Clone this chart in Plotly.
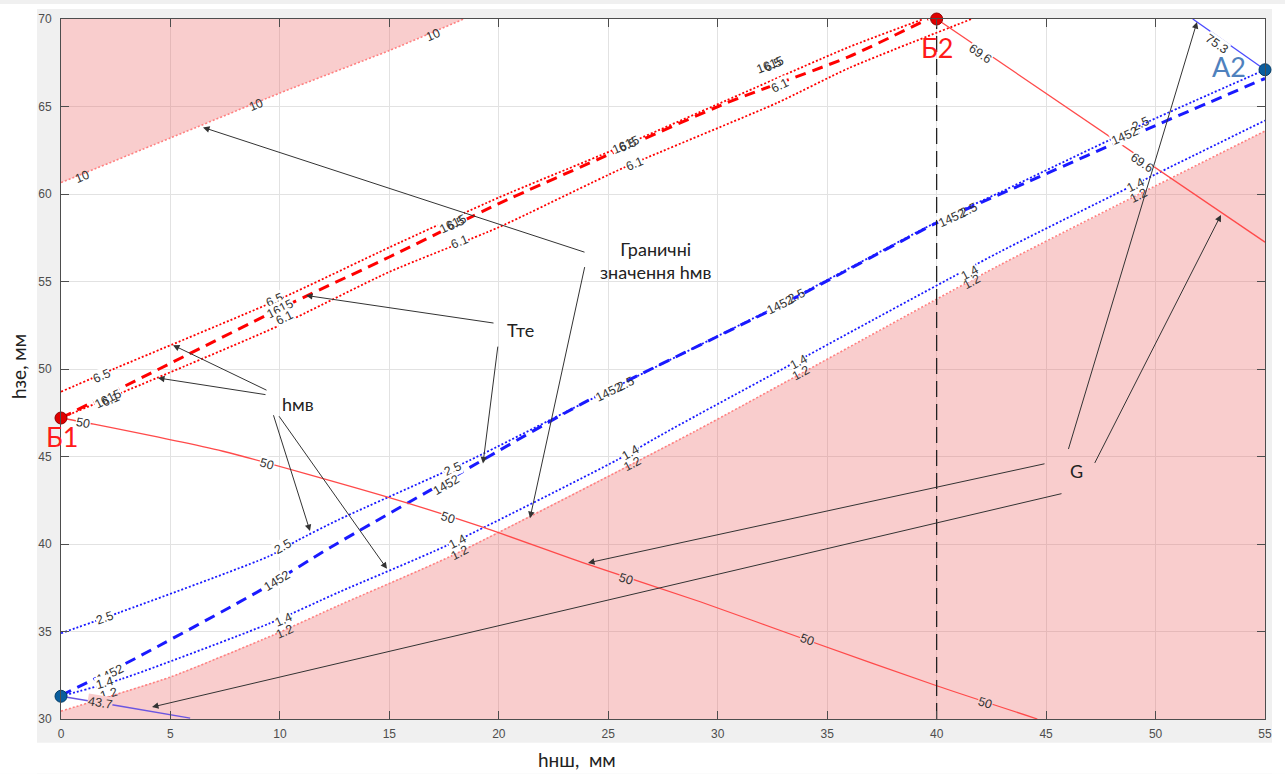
import numpy as np
import plotly.graph_objects as go

# ---------------- data ----------------
X_RANGE = [0, 55]
Y_RANGE = [30, 70]
X_TICKS = [0, 5, 10, 15, 20, 25, 30, 35, 40, 45, 50, 55]
Y_TICKS = [30, 35, 40, 45, 50, 55, 60, 65, 70]

# upper limit boundary hмв = 10
lim10_x = [0, 5, 10, 15, 18.4]
lim10_y = [60.65, 63.2, 65.77, 68.2, 70]
# lower limit boundary hмв = 1.2
lim12_x = [0, 5, 9.7, 12.7, 17.8, 28.9, 42.9, 55]
lim12_y = [30.45, 32.4, 34.8, 36.5, 39.3, 46.4, 55.95, 63.6]

# red family (Б)
t65_x = [0, 2.5, 10, 15, 20, 25.2, 30.4, 36, 39.4]
t65_y = [48.7, 50.05, 54.0, 56.95, 59.8, 62.5, 65.35, 68.4, 70]
t1615_x = [0, 4.4, 10, 15, 20, 25.2, 30.4, 36, 39.6]
t1615_y = [47.2, 49.95, 53.45, 56.4, 59.45, 62.35, 65.2, 67.85, 70]
t61_x = [0, 4.4, 10, 15, 20, 25.7, 32.7, 36, 41.6]
t61_y = [47.2, 49.5, 52.5, 55.55, 58.1, 61.5, 65.2, 67.2, 70]

# blue family (А)
b25_x = [0, 2.7, 9.5, 10.8, 12.7, 18.7, 23.7, 33.2, 40, 42.9, 49.7, 55]
b25_y = [34.9, 36.1, 39.3, 40.2, 41.4, 44.8, 47.95, 53.9, 58.4, 60.1, 64.15, 67.1]
b1452_x = [0, 3.15, 9.1, 12.3, 17.6, 23.7, 33.2, 40, 44, 49.7, 55]
b1452_y = [31.35, 33.3, 37.35, 39.8, 43.6, 47.95, 53.85, 58.35, 60.6, 63.75, 66.6]
b14_x = [0, 2.8, 9.5, 12.7, 17.6, 25.4, 27.8, 33.7, 42.9, 55]
b14_y = [31.3, 32.3, 35.45, 37.25, 39.9, 44.8, 46.5, 50.5, 56.7, 64.2]

# G lines
g50_x = [0, 1.5, 7.4, 15, 19.3, 23.8, 29.2, 34.1, 40, 44.6]
g50_y = [47.2, 46.85, 45.3, 42.65, 40.95, 38.95, 36.7, 34.5, 31.9, 30]
g696_x = [40, 55]
g696_y = [70, 57.25]
g753_x = [51.7, 55]
g753_y = [70, 67.1]
g437_x = [0, 2.6, 5.9]
g437_y = [31.3, 30.76, 30.05]

# special points
pt_names = ["Б1", "Б2", "А1", "А2"]
pt_x = [0, 40, 0, 55]
pt_y = [47.2, 70, 31.3, 67.1]
B2_X = 40

# ---------------- style constants ----------------
W, H = 1285, 774
ML, MR, MT, MB = 61, 20, 15, 55
PW, PH = W - ML - MR, H - MT - MB
PX_X = PW / (X_RANGE[1] - X_RANGE[0])
PX_Y = PH / (Y_RANGE[1] - Y_RANGE[0])

PINK_FILL = "rgba(235,90,90,0.30)"
PINK_BG = "#f9cdcd"
RED = "#ff0000"
BLUE = "#1a1aff"
LRED = "#ff8080"
SRED = "#ff4a4a"
LBL_FONT = dict(family="Liberation Sans, Arial", size=12.5, color="#333333")
TXT_FONT = dict(family="Lato, Open Sans", size=18, color="#222222")


def px2x(px):
    return X_RANGE[0] + (px - ML) / PX_X


def py2y(py):
    return Y_RANGE[1] - (py - MT) / PX_Y


fig = go.Figure()

# pink regions
fig.add_trace(go.Scatter(x=lim10_x + [X_RANGE[0]], y=lim10_y + [Y_RANGE[1]], fill="toself",
                         fillcolor=PINK_FILL, line=dict(width=0), mode="lines", hoverinfo="skip"))
fig.add_trace(go.Scatter(x=lim12_x + [X_RANGE[1], X_RANGE[0]], y=lim12_y + [Y_RANGE[0], Y_RANGE[0]],
                         fill="toself", fillcolor=PINK_FILL, line=dict(width=0), mode="lines",
                         hoverinfo="skip"))


def line(xs, ys, color, width, dash=None):
    fig.add_trace(go.Scatter(x=xs, y=ys, mode="lines",
                             line=dict(color=color, width=width, dash=dash, shape="spline",
                                       smoothing=0.6),
                             hoverinfo="skip"))


line(lim10_x, lim10_y, LRED, 1.6, "2px,2px")
line(lim12_x, lim12_y, LRED, 1.6, "2px,2px")
line(t65_x, t65_y, RED, 1.8, "2px,2px")
line(t61_x, t61_y, RED, 1.8, "2px,2px")
line(t1615_x, t1615_y, RED, 3, "11px,7px")
line(b25_x, b25_y, BLUE, 1.8, "2px,2px")
line(b14_x, b14_y, BLUE, 1.8, "2px,2px")
line(b1452_x, b1452_y, BLUE, 3, "11px,7px")
line(g50_x, g50_y, SRED, 1.3)
line(g696_x, g696_y, SRED, 1.3)
line(g753_x, g753_y, "#4b4bff", 1.3)
line(g437_x, g437_y, "#6a55e0", 1.5)
# vertical dashed line through Б2
fig.add_trace(go.Scatter(x=[B2_X, B2_X], y=Y_RANGE, mode="lines",
                         line=dict(color="#222222", width=1.3, dash="16px,7px"), hoverinfo="skip"))

# special points
fig.add_trace(go.Scatter(x=pt_x, y=pt_y, mode="markers", cliponaxis=False,
                         marker=dict(size=12, color=["#e00000", "#e00000", "#0a5e9e", "#0a5e9e"],
                                     line=dict(width=1, color=["#900000", "#900000", "#063d66", "#063d66"])),
                         hoverinfo="skip"))

annotations = []


def ang(xs, ys, x):
    xs = np.asarray(xs, float)
    ys = np.asarray(ys, float)
    i = int(np.clip(np.searchsorted(xs, x), 1, len(xs) - 1))
    dx = (xs[i] - xs[i - 1]) * PX_X
    dy = (ys[i] - ys[i - 1]) * PX_Y
    return -float(np.degrees(np.arctan2(dy, dx)))


def clabel(text, x, y, xs, ys, bg="white"):
    annotations.append(dict(x=x, y=y, text=text, showarrow=False, font=LBL_FONT,
                            textangle=ang(xs, ys, x), bgcolor=bg, borderpad=0))


# contour labels
for (x, y) in [(0.94, 61.0), (8.9, 65.1), (17.0, 69.1)]:
    clabel("10", x, y, lim10_x, lim10_y, None)

clabel("6.5", 1.86, 49.6, t65_x, t65_y)
clabel("1615", 2.15, 48.3, t1615_x, t1615_y)
clabel("6.1", 2.25, 48.25, t61_x, t61_y, None)
clabel("6.5", 9.77, 53.93, t65_x, t65_y)
clabel("1615", 10.0, 53.45, t1615_x, t1615_y)
clabel("6.1", 10.2, 52.9, t61_x, t61_y)
for (x, y) in [(17.9, 58.3), (25.8, 62.8), (32.4, 67.4)]:
    clabel("1615", x, y, t1615_x, t1615_y)
    clabel("6.5", x + 0.1, y, t65_x, t65_y, None)
for (x, y) in [(18.2, 57.25), (26.2, 61.7), (32.8, 66.2)]:
    clabel("6.1", x, y, t61_x, t61_y)

for (x, y) in [(2.0, 35.8), (10.1, 39.85), (17.9, 44.3)]:
    clabel("2.5", x, y, b25_x, b25_y)
for (x, y) in [(2.24, 32.6), (9.86, 37.9), (17.6, 43.4)]:
    clabel("1452", x, y, b1452_x, b1452_y)
for (x, y) in [(25.4, 48.9), (33.2, 53.9), (41.05, 58.85)]:
    clabel("1452", x - 0.35, y - 0.22, b1452_x, b1452_y)
    clabel("2.5", x + 0.4, y + 0.25, b25_x, b25_y, None)
clabel("1452", 48.6, 63.3, b1452_x, b1452_y)
clabel("2.5", 49.3, 64.0, b25_x, b25_y, None)

for (x, y) in [(2.0, 32.05), (10.15, 35.65), (18.1, 40.1), (26.0, 45.2), (33.7, 50.4),
               (41.5, 55.5), (49.1, 60.5)]:
    clabel("1.4", x, y, b14_x, b14_y)
for (x, y) in [(2.16, 31.45), (10.2, 35.0), (18.2, 39.5), (26.1, 44.55), (33.8, 49.8),
               (41.6, 55.0), (49.2, 59.9)]:
    clabel("1.2", x, y, lim12_x, lim12_y, None)

for (x, y, bg) in [(1.0, 46.9, "white"), (9.4, 44.6, "white"), (17.7, 41.5, "white"),
                   (25.8, 38.0, PINK_BG), (34.1, 34.5, PINK_BG), (42.2, 30.9, PINK_BG)]:
    clabel("50", x, y, g50_x, g50_y, bg)
clabel("69.6", 42.0, 68.0, g696_x, g696_y)
clabel("69.6", 49.4, 61.8, g696_x, g696_y)
clabel("75.3", 52.8, 68.6, g753_x, g753_y)
clabel("43.7", 1.8, 30.9, g437_x, g437_y, PINK_BG)

# explanatory texts
annotations += [
    dict(x=px2x(655), y=py2y(258), text="Граничні<br>значення hмв", showarrow=False,
         font=TXT_FONT, align="center"),
    dict(x=px2x(520), y=py2y(328), text="Тте", showarrow=False, font=TXT_FONT),
    dict(x=px2x(298), y=py2y(402), text="hмв", showarrow=False, font=TXT_FONT),
    dict(x=px2x(1076), y=py2y(470), text="G", showarrow=False, font=TXT_FONT),
]

# arrows: (tail px, head px)
arrows = [
    ((586, 250), (203, 124)), ((585, 263), (530, 517)),
    ((495, 321), (306, 293)), ((498, 343), (483, 462)),
    ((268, 389), (173, 343)), ((267, 393), (158, 376)),
    ((273, 412), (310, 530)), ((278, 413), (387, 568)),
    ((1068, 449), (1197, 18)), ((1094, 463), (1221, 212)),
    ((1046, 462), (588, 562)), ((1063, 492), (152, 707)),
]
for (tx, ty), (hx, hy) in arrows:
    annotations.append(dict(x=px2x(hx), y=py2y(hy), ax=px2x(tx), ay=py2y(ty), axref="x", ayref="y",
                            text="", showarrow=True, arrowhead=2, arrowsize=1.3, arrowwidth=1,
                            arrowcolor="#333333", standoff=0))

# point labels
PT_FONT_R = dict(family="Lato, Open Sans", size=27, color="#ff1a1a")
PT_FONT_B = dict(family="Lato, Open Sans", size=27, color="#4f81bd")
annotations += [
    dict(x=px2x(62), y=py2y(435), text=pt_names[0], showarrow=False, font=PT_FONT_R),
    dict(x=px2x(937), y=py2y(44), text=pt_names[1], showarrow=False, font=PT_FONT_R),
    dict(x=px2x(43), y=py2y(676), text=pt_names[2], showarrow=False, font=PT_FONT_B),
    dict(x=px2x(1229), y=py2y(63), text=pt_names[3], showarrow=False, font=PT_FONT_B),
]

# axis titles
annotations += [
    dict(xref="paper", yref="paper", x=(577 - ML) / PW, y=(H - MB - 760) / PH,
         xanchor="center", yanchor="middle",
         text="hнш,  мм", showarrow=False, font=dict(family="Lato, Open Sans", size=19, color="#222")),
    dict(xref="paper", yref="paper", x=(18 - ML) / PW, y=(H - MB - 365) / PH, textangle=-90,
         xanchor="center", yanchor="middle",
         text="hзе, мм", showarrow=False, font=dict(family="Lato, Open Sans", size=19, color="#222")),
]

# white margins outside the grey figure area
def rect(px0, py0, px1, py1, color):
    return dict(type="rect", xref="paper", yref="paper", layer="below",
                x0=(px0 - ML) / PW, x1=(px1 - ML) / PW,
                y0=(H - MB - py1) / PH, y1=(H - MB - py0) / PH,
                fillcolor=color, line=dict(width=0))


shapes = [rect(0, 0, 37, H, "white"), rect(1272, 0, W, H, "white"),
          rect(0, 0, W, 5, "white"), rect(0, 743, W, H, "white")]

axis_common = dict(showgrid=True, gridcolor="#e2e2e2", gridwidth=1, zeroline=False,
                   showline=True, linecolor="#4d4d4d", linewidth=1, mirror="ticks",
                   ticks="inside", ticklen=8, tickcolor="#4d4d4d",
                   tickfont=dict(family="Liberation Sans, Arial", size=12, color="#4d4d4d"))

fig.update_layout(
    width=W, height=H, margin=dict(l=ML, r=MR, t=MT, b=MB),
    paper_bgcolor="#f0f0f0", plot_bgcolor="white", showlegend=False,
    xaxis=dict(range=X_RANGE, tickvals=X_TICKS, ticklabelstandoff=4, **axis_common),
    yaxis=dict(range=Y_RANGE, tickvals=Y_TICKS, ticklabelstandoff=6, **axis_common),
    annotations=annotations, shapes=shapes,
)

fig.write_html("out.html", config={"displayModeBar": False},
               post_script="document.body.style.margin='0px';document.body.style.padding='0px';"
                           "document.body.style.overflow='hidden';")
